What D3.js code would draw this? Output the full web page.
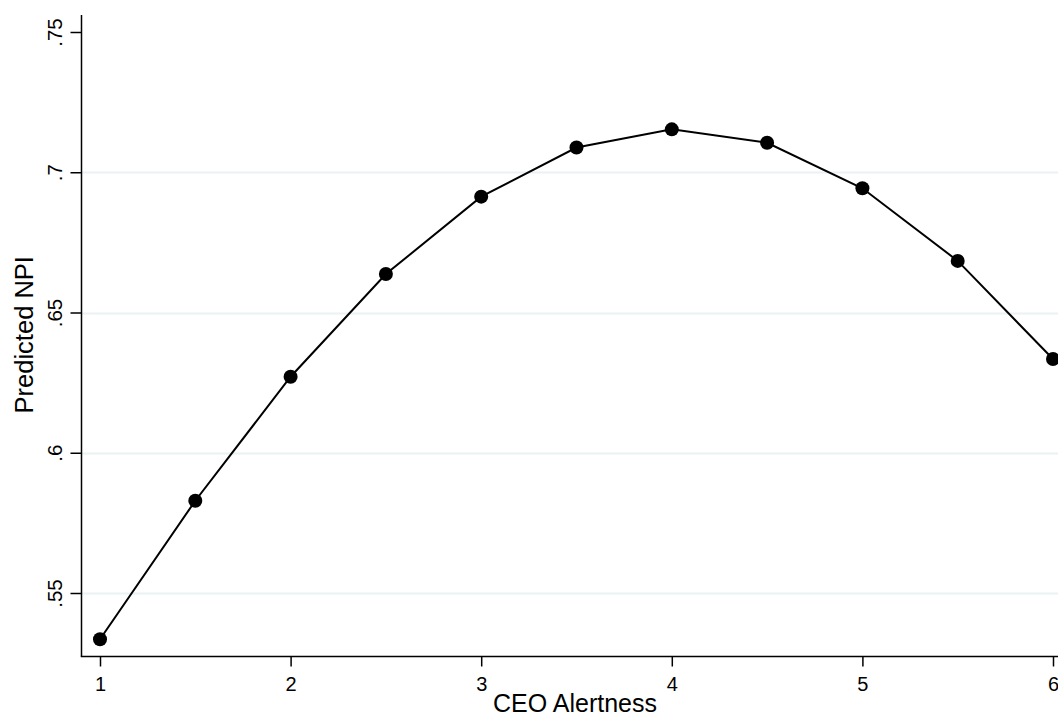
<!DOCTYPE html>
<html>
<head>
<meta charset="utf-8">
<script src="https://cdn.jsdelivr.net/npm/d3@7"></script>
<style>
  html, body { margin: 0; padding: 0; background: #fff; }
  svg { display: block; font-family: "Liberation Sans", Arial, sans-serif; }
</style>
</head>
<body>
<svg id="chart" width="1058" height="718"></svg>
<script>
// Predicted NPI across levels of CEO alertness
const alertness = [1, 1.5, 2, 2.5, 3, 3.5, 4, 4.5, 5, 5.5, 6];
const predictedNPI = [0.5335, 0.5829, 0.6271, 0.6637, 0.6913, 0.7088, 0.7153, 0.7105, 0.6943, 0.6684, 0.6334];
const xTicks = [1, 2, 3, 4, 5, 6];
const yTicks = [0.55, 0.6, 0.65, 0.7, 0.75];
const yGridTicks = [0.55, 0.6, 0.65, 0.7];

const svg = d3.select("#chart");
const W = 1058;
const axisX = 81.5, axisY = 656.5, plotTop = 15;

const x = d3.scaleLinear().domain([1, 6]).range([100, 1053]);
const y = d3.scaleLinear().domain([0.55, 0.75]).range([593, 32]);

const fmt = d => d3.format(".2f")(d).replace(/^0/, "").replace(/0$/, "");

// horizontal gridlines
svg.append("g").selectAll("line").data(yGridTicks).join("line")
  .attr("x1", axisX).attr("x2", W)
  .attr("y1", d => Math.round(y(d)) + 0.5).attr("y2", d => Math.round(y(d)) + 0.5)
  .attr("stroke", "#eaf2f3").attr("stroke-width", 2);

// y axis
const yAxis = d3.axisLeft(y).tickValues(yTicks).tickFormat(fmt).tickSize(11).tickPadding(6);
const gy = svg.append("g").attr("transform", `translate(${axisX},0)`).call(yAxis);
gy.select(".domain").remove();
gy.selectAll(".tick line").attr("stroke", "#000").attr("stroke-width", 1.5);
gy.selectAll(".tick text")
  .attr("font-size", 20.5).attr("fill", "#000")
  .attr("text-anchor", "middle")
  .attr("transform", "rotate(-90)")
  .attr("x", 0).attr("y", -20).attr("dy", 0);
gy.append("line").attr("x1", 0).attr("x2", 0).attr("y1", plotTop).attr("y2", axisY)
  .attr("stroke", "#000").attr("stroke-width", 1.5);

// x axis
const xAxis = d3.axisBottom(x).tickValues(xTicks).tickFormat(d3.format("d")).tickSize(10).tickPadding(8);
const gx = svg.append("g").attr("transform", `translate(0,${axisY})`).call(xAxis);
gx.select(".domain").remove();
gx.selectAll(".tick line").attr("stroke", "#000").attr("stroke-width", 1.5);
gx.selectAll(".tick text").attr("font-size", 20).attr("fill", "#000")
  .attr("y", 34.5).attr("dy", 0);
gx.append("line").attr("x1", axisX - 0.75).attr("x2", W).attr("y1", 0).attr("y2", 0)
  .attr("stroke", "#000").attr("stroke-width", 1.5);

// axis titles
svg.append("text")
  .attr("transform", `translate(33,${(plotTop + axisY) / 2 - 1}) rotate(-90)`)
  .attr("text-anchor", "middle")
  .attr("font-size", 25.5).attr("fill", "#000")
  .text("Predicted NPI");
svg.append("text")
  .attr("x", 575).attr("y", 712)
  .attr("text-anchor", "middle")
  .attr("font-size", 25).attr("fill", "#000")
  .text("CEO Alertness");

// connected line and markers
const pts = alertness.map((a, i) => [a, predictedNPI[i]]);
svg.append("path")
  .datum(pts)
  .attr("fill", "none").attr("stroke", "#000").attr("stroke-width", 2)
  .attr("d", d3.line().x(d => x(d[0])).y(d => y(d[1])));
svg.append("g").selectAll("circle").data(pts).join("circle")
  .attr("cx", d => x(d[0])).attr("cy", d => y(d[1])).attr("r", 7)
  .attr("fill", "#000");
</script>
</body>
</html>
